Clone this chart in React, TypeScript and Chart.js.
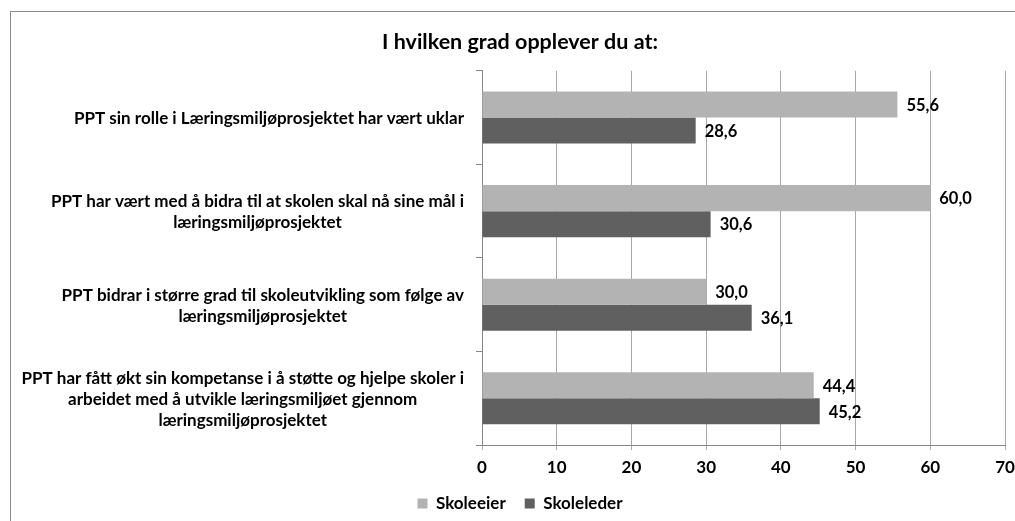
import React, { useEffect, useRef } from 'react';
import { Chart, registerables } from 'chart.js';

Chart.register(...registerables);

const chartTitle = 'I hvilken grad opplever du at:';
const categories: string[][] = [
  ['PPT sin rolle i Læringsmiljøprosjektet har vært uklar'],
  ['PPT har vært med å bidra til at skolen skal nå sine mål i', 'læringsmiljøprosjektet'],
  ['PPT bidrar i større grad til skoleutvikling som følge av', 'læringsmiljøprosjektet'],
  [
    'PPT har fått økt sin kompetanse i å støtte og hjelpe skoler i',
    'arbeidet med å utvikle læringsmiljøet gjennom',
    'læringsmiljøprosjektet',
  ],
];
const seriesNames = ['Skoleeier', 'Skoleleder'];
const skoleeier = [55.6, 60.0, 30.0, 44.4];
const skoleleder = [28.6, 30.6, 36.1, 45.2];
const xMin = 0;
const xMax = 70;
const xStep = 10;

const FONT = 'Lato, "DejaVu Sans", sans-serif';
const LIGHT = '#b3b3b3';
const DARK = '#606060';
const GRID = '#a8a8a8';
const AXIS = '#868686';
const CANVAS_W = 1015;
const CANVAS_H = 522;

const framePlugin = {
  id: 'frame',
  beforeDraw(chart: any) {
    const { ctx, width, height } = chart;
    ctx.save();
    ctx.fillStyle = '#ffffff';
    ctx.fillRect(0, 0, width, height);
    ctx.strokeStyle = '#8c8c8c';
    ctx.lineWidth = 1;
    ctx.strokeRect(10.5, 11.5, width + 20, height + 20);
    ctx.restore();
  },
};

const textPlugin = {
  id: 'texts',
  afterDraw(chart: any) {
    const { ctx } = chart;
    const yScale = chart.scales.y;
    ctx.save();
    ctx.fillStyle = '#000000';
    ctx.font = `bold 17px ${FONT}`;
    ctx.textBaseline = 'middle';
    ctx.textAlign = 'center';
    const right = chart.chartArea.left - 18;
    const lineH = 21;
    categories.forEach((lines, i) => {
      const cy = yScale.getPixelForValue(i);
      const widest = Math.max(...lines.map((l) => ctx.measureText(l).width));
      const cx = right - widest / 2;
      const startY = cy - ((lines.length - 1) * lineH) / 2 + 1;
      lines.forEach((l, j) => ctx.fillText(l, cx, startY + j * lineH));
    });
    ctx.font = `bold 16.5px ${FONT}`;
    ctx.textAlign = 'left';
    chart.data.datasets.forEach((ds: any, di: number) => {
      const meta = chart.getDatasetMeta(di);
      meta.data.forEach((el: any, i: number) => {
        const v = ds.data[i] as number;
        ctx.fillText(v.toFixed(1).replace('.', ','), el.x + 9, el.y + 1);
      });
    });
    ctx.restore();
  },
};

export default function App() {
  const ref = useRef<HTMLCanvasElement>(null);
  useEffect(() => {
    document.documentElement.style.overflow = 'hidden';
    document.body.style.margin = '0';
    document.body.style.overflow = 'hidden';
    const chart = new Chart(ref.current as HTMLCanvasElement, {
      type: 'bar',
      data: {
        labels: categories.map((c) => c.join(' ')),
        datasets: [
          {
            label: seriesNames[0],
            data: skoleeier,
            backgroundColor: LIGHT,
            borderWidth: 0,
            categoryPercentage: 0.556,
            barPercentage: 1,
          },
          {
            label: seriesNames[1],
            data: skoleleder,
            backgroundColor: DARK,
            borderWidth: 0,
            categoryPercentage: 0.556,
            barPercentage: 1,
          },
        ],
      },
      options: {
        indexAxis: 'y',
        responsive: false,
        devicePixelRatio: 1,
        animation: false,
        layout: { padding: { left: 35, right: 10, top: 0, bottom: 0 } },
        plugins: {
          title: {
            display: true,
            text: chartTitle,
            color: '#000000',
            font: { family: FONT, size: 21.5, weight: 'bold' },
            padding: { top: 29, bottom: 16 },
          },
          legend: {
            position: 'bottom',
            labels: {
              color: '#000000',
              font: { family: FONT, size: 17, weight: 'bold' },
              boxWidth: 10,
              boxHeight: 10,
              padding: 19,
            },
          },
          tooltip: { enabled: false },
        },
        scales: {
          x: {
            type: 'linear',
            min: xMin,
            max: xMax,
            ticks: {
              stepSize: xStep,
              color: '#000000',
              font: { family: FONT, size: 17, weight: 'bold' },
              padding: 7,
            },
            grid: { color: GRID, tickLength: 5, tickColor: GRID },
            border: { color: AXIS },
            afterFit: (s: any) => {
              s.height = 31;
              s.paddingLeft = 0;
              s.paddingRight = 0;
            },
          },
          y: {
            type: 'category',
            offset: true,
            ticks: { display: false },
            grid: { offset: true, drawOnChartArea: false, tickLength: 6, color: AXIS },
            border: { color: AXIS },
            afterFit: (s: any) => {
              s.width = 447;
            },
          },
        },
      },
      plugins: [framePlugin, textPlugin],
    });
    return () => chart.destroy();
  }, []);
  return (
    <div style={{ position: 'fixed', left: 0, top: 0, width: CANVAS_W, height: CANVAS_H }}>
      <canvas ref={ref} width={CANVAS_W} height={CANVAS_H} style={{ display: 'block' }} />
    </div>
  );
}
